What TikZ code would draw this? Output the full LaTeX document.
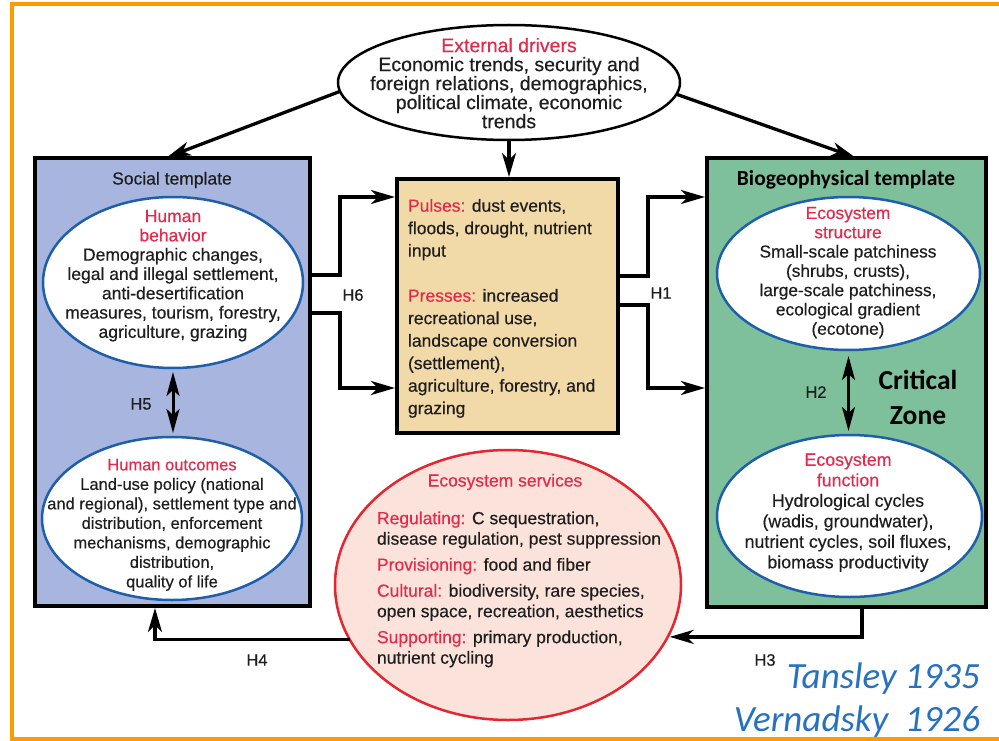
\documentclass[tikz,border=0pt]{standalone}
\usepackage{fontspec}
\setmainfont{Liberation Sans}[FakeBold=0.4]
\newfontfamily\calib{Carlito}
\usetikzlibrary{shapes.geometric,arrows.meta,calc}

\definecolor{frameorange}{HTML}{FF9A00}
\definecolor{socblue}{HTML}{A7B5DF}
\definecolor{biogreen}{HTML}{7EBF9C}
\definecolor{pulsetan}{HTML}{F2D9A8}
\definecolor{esfill}{HTML}{FBE3DC}
\definecolor{esred}{HTML}{E3262F}
\definecolor{ellblue}{HTML}{1F5FAA}
\definecolor{lblred}{HTML}{E5294B}
\definecolor{txt}{HTML}{1E1E1E}
\definecolor{refblue}{HTML}{2672C0}

\begin{document}
\begin{tikzpicture}[x=1pt,y=-1pt,
  every node/.style={inner sep=0pt, outer sep=0pt},
  tmpl/.style={rectangle, draw=black, line width=4pt, anchor=north west},
  oval/.style={ellipse, draw=ellblue, fill=white, line width=2.5pt},
  body/.style={text=txt, font=\fontsize{17.5}{19.3}\selectfont, align=center, anchor=north},
  hlabel/.style={text=txt, font=\fontsize{16.5}{16.5}\selectfont},
  arr/.style={line width=3.3pt, shorten >=2pt, -{Stealth[length=24pt,width=14pt,inset=7pt]}},
  dbl/.style={line width=3pt, {Stealth[length=24pt,width=13pt,inset=6pt]}-{Stealth[length=24pt,width=13pt,inset=6pt]}},
  red/.style={text=lblred}]

\useasboundingbox (0,0) rectangle (999,741);
\fill[white] (0,0) rectangle (999,741);

% outer frame
\draw[frameorange, line width=4pt] (999,4) -- (12,4) -- (12,739) -- (999,739);

% template boxes and the central pulses/presses box
\node[tmpl, fill=socblue, minimum width=275pt, minimum height=448pt] (soc) at (35,158) {};
\node[tmpl, fill=biogreen, minimum width=279pt, minimum height=449pt] (bio) at (707,158) {};
\node[tmpl, fill=pulsetan, minimum width=221pt, minimum height=254pt] (pul) at (397,179) {};

% external drivers
\node[ellipse, draw=black, fill=white, line width=2.5pt, minimum width=342pt, minimum height=115pt] (ed) at (509,82.5) {};
\node[body, font=\fontsize{19.5}{19}\selectfont] (edt) at (509,38)
  {\textcolor{lblred}{External drivers}\\Economic trends, security and\\foreign relations, demographics,\\political climate, economic\\trends};

% social template contents
\node[text=txt, font=\fontsize{17.5}{17.5}\selectfont] (soct) at (172,180) {Social template};
\node[oval, minimum width=260pt, minimum height=171pt] (hb) at (173,282.5) {};
\node[body] (hbt) at (173,210)
  {\textcolor{lblred}{Human}\\\textcolor{lblred}{behavior}\\Demographic changes,\\legal and illegal settlement,\\anti-desertification\\measures, tourism, forestry,\\agriculture, grazing};
\node[oval, minimum width=260pt, minimum height=163pt] (ho) at (172,518.5) {};
\node[body, font=\fontsize{16.5}{19.5}\selectfont] (hot) at (172,459)
  {\textcolor{lblred}{Human outcomes}\\Land-use policy (national\\and regional), settlement type and\\distribution, enforcement\\mechanisms, demographic\\distribution,\\quality of life};

% biogeophysical template contents
\node[text=black, font=\calib\bfseries\fontsize{21.5}{21.5}\selectfont] (biot) at (846,180) {Biogeophysical template};
\node[oval, minimum width=263pt, minimum height=153pt] (ess) at (848.5,273.5) {};
\node[body, font=\fontsize{17.3}{19.3}\selectfont] (esst) at (848,207)
  {\textcolor{lblred}{Ecosystem}\\\textcolor{lblred}{structure}\\Small-scale patchiness\\(shrubs, crusts),\\large-scale patchiness,\\ecological gradient\\(ecotone)};
\node[oval, minimum width=265pt, minimum height=162pt] (ef) at (849.5,516) {};
\node[body, font=\fontsize{17.8}{20.5}\selectfont] (eft) at (848,453.5)
  {\textcolor{lblred}{Ecosystem}\\\textcolor{lblred}{function}\\Hydrological cycles\\(wadis, groundwater),\\nutrient cycles, soil fluxes,\\biomass productivity};
\node[text=black, font=\calib\bfseries\fontsize{27.5}{35}\selectfont, align=center] (cz) at (918,397) {Critical\\Zone};

% pulses and presses
\node[text=txt, font=\fontsize{17.5}{22.5}\selectfont, align=left, anchor=north west] (pult) at (408,199)
  {\textcolor{lblred}{Pulses:} dust events,\\floods, drought, nutrient\\input\\[22.5pt]%
   \textcolor{lblred}{Presses:} increased\\recreational use,\\landscape conversion\\(settlement),\\agriculture, forestry, and\\grazing};

% ecosystem services
\node[ellipse, draw=esred, fill=esfill, line width=2.5pt, minimum width=346pt, minimum height=270pt] (es) at (508,585) {};
\node[text=lblred, font=\fontsize{17.5}{17.5}\selectfont] (est) at (505,482) {Ecosystem services};
\node[text=txt, font=\fontsize{17.5}{20.5}\selectfont, align=left, anchor=north west] (esb) at (377,511.5)
  {\textcolor{lblred}{Regulating:} C sequestration,\\disease regulation, pest suppression\\[5.5pt]%
   \textcolor{lblred}{Provisioning:} food and fiber\\[5.5pt]%
   \textcolor{lblred}{Cultural:} biodiversity, rare species,\\open space, recreation, aesthetics\\[5.5pt]%
   \textcolor{lblred}{Supporting:} primary production,\\nutrient cycling};

% driver arrows
\draw[arr] (ed.183) -- ([xshift=130pt]soc.north west);
\draw[arr] (ed.-4) -- ([xshift=150pt]bio.north west);
\draw[arr] (ed.south) -- (ed.south |- pul.north);

% H6: social template to pulses and presses
\draw[arr] (soc.east |- 0,275) -- (340,275) -- (340,197) -- (pul.west |- 0,197);
\draw[arr] (soc.east |- 0,313) -- (340,313) -- (340,388) -- (pul.west |- 0,388);
\node[hlabel] (h6) at (353,295) {H6};

% H1: pulses and presses to biogeophysical template
\draw[arr] (pul.east |- 0,276) -- (648,276) -- (648,197) -- (bio.west |- 0,197);
\draw[arr] (pul.east |- 0,305) -- (648,305) -- (648,388) -- (bio.west |- 0,388);
\node[hlabel] (h1) at (661,293) {H1};

% H5 and H2: links inside the templates
\draw[dbl, shorten <=4pt, shorten >=4pt] (hb.south) -- (hb.south |- ho.north);
\node[hlabel] (h5) at (141,404) {H5};
\draw[dbl, shorten <=6pt, shorten >=4pt] (ess.south) -- (ess.south |- ef.north);
\node[hlabel] (h2) at (816,392) {H2};

% H3 and H4: through ecosystem services
\draw[arr] (bio.south west -| 862,0) |- (es.-18);
\node[hlabel] (h3) at (765,660) {H3};
\draw[arr] (es.199) -| (soc.south west -| 155,0);
\node[hlabel] (h4) at (257,660) {H4};

% references
\node[text=refblue, font=\calib\itshape\fontsize{37}{37}\selectfont, anchor=base east] (ref1) at (980,688) {Tansley 1935};
\node[text=refblue, font=\calib\itshape\fontsize{37}{37}\selectfont, anchor=base east] (ref2) at (980,731) {Vernadsky~~1926};

\end{tikzpicture}
\end{document}
